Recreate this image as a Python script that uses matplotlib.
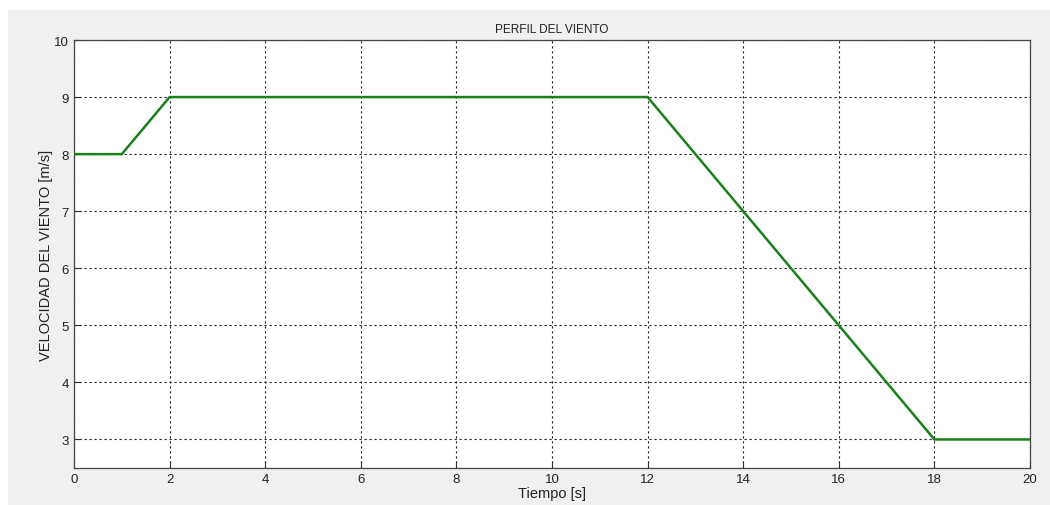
import matplotlib
matplotlib.use("Agg")
import matplotlib.pyplot as plt
from matplotlib.patches import Rectangle

# Wind speed profile breakpoints
tiempo = [0, 1, 2, 12, 18, 20]
velocidad = [8, 8, 9, 9, 3, 3]

x_ticks = [0, 2, 4, 6, 8, 10, 12, 14, 16, 18, 20]
y_ticks = [3, 4, 5, 6, 7, 8, 9, 10]

plt.rcParams['font.family'] = ['Liberation Sans', 'DejaVu Sans']

W, H = 1050, 506
fig = plt.figure(figsize=(W / 100, H / 100), dpi=100)
fig.patch.set_facecolor('white')
# grey window panel
fig.patches.append(Rectangle((8 / W, 0), 1 - 8 / W, 1 - 11 / H,
                             transform=fig.transFigure, facecolor='#f0f0f0',
                             edgecolor='none', zorder=-10))

ax = fig.add_axes([74 / W, 1 - 469 / H, (1030 - 74) / W, (469 - 41) / H])
ax.set_facecolor('white')
ax.plot(tiempo, velocidad, color='#1a801a', linewidth=1.8, zorder=3)

ax.set_xlim(0, 20)
ax.set_ylim(2.5, 10)
ax.set_xticks(x_ticks)
ax.set_yticks(y_ticks)
ax.grid(True, color='#222222', linestyle=(0, (2, 2.5)), linewidth=0.8)
ax.tick_params(direction='in', length=5, width=0.8, colors='#333333',
               labelsize=9.5, labelcolor='#222222', top=False, right=False)
for s in ax.spines.values():
    s.set_color('#444444')
    s.set_linewidth(0.9)

ax.set_title('PERFIL DEL VIENTO', fontsize=8.5, color='#222222', pad=6)
ax.set_xlabel('Tiempo [s]', fontsize=10.5, color='#222222', labelpad=1)
ax.set_ylabel('VELOCIDAD DEL VIENTO [m/s]', fontsize=10.5, color='#222222', labelpad=1)

fig.savefig('out.png', dpi=100, facecolor=fig.get_facecolor())
